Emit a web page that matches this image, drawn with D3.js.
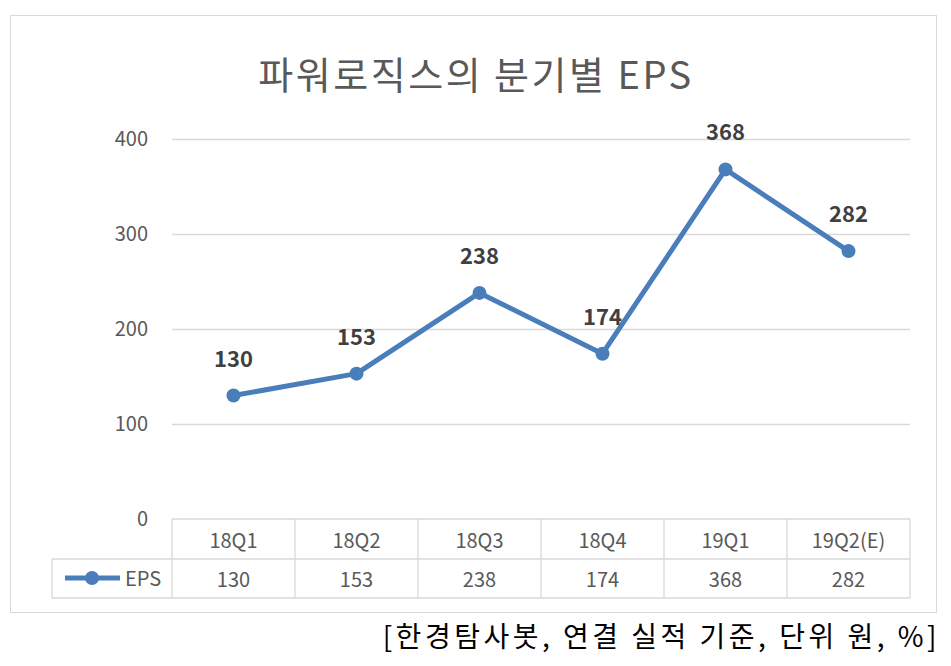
<!DOCTYPE html>
<html><head><meta charset="utf-8">
<script src="https://cdn.jsdelivr.net/npm/d3@7"></script>
<style>body{margin:0;background:#fff}</style></head>
<body><svg id="c" width="951" height="666"></svg>
<script>
const categories=["18Q1","18Q2","18Q3","18Q4","19Q1","19Q2(E)"];
const eps=[130,153,238,174,368,282];
const yTicks=[0,100,200,300,400];
const title="파워로직스의 분기별 EPS";
const seriesName="EPS";
const footer="[한경탐사봇, 연결 실적 기준, 단위 원, %]";

const svg=d3.select("#c");
const F="'Noto Sans CJK KR','Noto Sans',sans-serif";
const L=172,R=910,T=139,B=519;
const x=d3.scaleBand().domain(categories).range([L,R]);
const y=d3.scaleLinear().domain([0,400]).range([B,T]);
const col="#4a7ebb", grid="#d9d9d9", txt="#595959";

svg.append("rect").attr("x",10.5).attr("y",15.5).attr("width",926).attr("height",597).attr("fill","#fff").attr("stroke","#d9d9d9");
svg.append("text").attr("x",476).attr("y",89).attr("text-anchor","middle").attr("font-family",F).attr("font-size",38).attr("letter-spacing",2.5).attr("fill",txt).text(title);

yTicks.forEach(t=>{
  if(t>0) svg.append("line").attr("x1",L).attr("x2",R).attr("y1",y(t)+.5).attr("y2",y(t)+.5).attr("stroke",grid).attr("stroke-width",1.3);
  svg.append("text").attr("x",148).attr("y",y(t)+7).attr("text-anchor","end").attr("font-family",F).attr("font-size",20).attr("fill",txt).text(t);
});

const r1=B,r2=559,r3=598,LL=52;
const g=svg.append("g").attr("stroke",grid).attr("stroke-width",1.3);
g.append("line").attr("x1",L).attr("x2",R).attr("y1",r1).attr("y2",r1);
g.append("line").attr("x1",LL).attr("x2",R).attr("y1",r2).attr("y2",r2);
g.append("line").attr("x1",LL).attr("x2",R).attr("y1",r3).attr("y2",r3);
g.append("line").attr("x1",LL).attr("x2",LL).attr("y1",r2).attr("y2",r3);
categories.forEach(c=>{g.append("line").attr("x1",x(c)).attr("x2",x(c)).attr("y1",r1).attr("y2",r3);});
g.append("line").attr("x1",R).attr("x2",R).attr("y1",r1).attr("y2",r3);
categories.forEach((c,i)=>{
  const cx=x(c)+x.bandwidth()/2;
  svg.append("text").attr("x",cx).attr("y",548).attr("text-anchor","middle").attr("font-family",F).attr("font-size",20).attr("fill",txt).text(c);
  svg.append("text").attr("x",cx).attr("y",587).attr("text-anchor","middle").attr("font-family",F).attr("font-size",20).attr("fill",txt).text(eps[i]);
});
svg.append("line").attr("x1",65).attr("x2",120).attr("y1",578).attr("y2",578).attr("stroke",col).attr("stroke-width",5);
svg.append("circle").attr("cx",92).attr("cy",578).attr("r",7).attr("fill",col);
svg.append("text").attr("x",125).attr("y",586).attr("font-family",F).attr("font-size",20).attr("fill",txt).text(seriesName);

const px=(d,i)=>x(categories[i])+x.bandwidth()/2;
svg.append("path").attr("d",d3.line().x(px).y(d=>y(d))(eps)).attr("fill","none").attr("stroke",col).attr("stroke-width",5).attr("stroke-linejoin","round");
eps.forEach((d,i)=>{
  svg.append("circle").attr("cx",px(d,i)).attr("cy",y(d)).attr("r",7).attr("fill",col);
  svg.append("text").attr("x",px(d,i)).attr("y",y(d)-29).attr("text-anchor","middle").attr("font-family",F).attr("font-weight","bold").attr("font-size",22).attr("fill","#404040").text(d);
});
svg.append("text").attr("x",940).attr("y",647).attr("text-anchor","end").attr("font-family",F).attr("font-size",28).attr("letter-spacing",3.5).attr("fill","#000").text(footer);
</script></body></html>
